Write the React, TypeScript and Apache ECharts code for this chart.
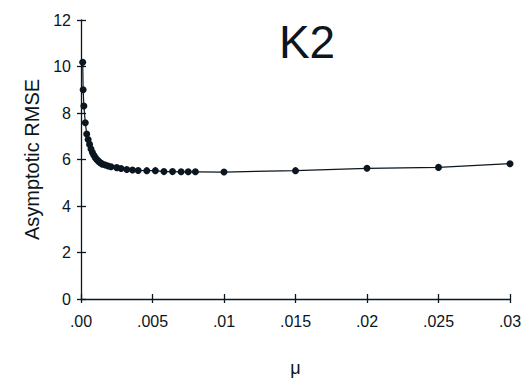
import React, { useEffect, useRef } from "react";
import * as echarts from "echarts";

const mu = [
  0.00012, 0.00015, 0.0002, 0.0003, 0.0004, 0.0005, 0.0006, 0.0007, 0.0008, 0.0009,
  0.001, 0.0011, 0.0012, 0.0013, 0.0014, 0.0015, 0.0017, 0.0019, 0.0021, 0.0025,
  0.0028, 0.0032, 0.0036, 0.004, 0.0046, 0.0052, 0.0058, 0.0064, 0.007, 0.0075,
  0.008, 0.01, 0.015, 0.02, 0.025, 0.03,
];
const rmse = [
  10.18, 9.0, 8.3, 7.58, 7.1, 6.86, 6.65, 6.45, 6.3, 6.18,
  6.08, 6.0, 5.94, 5.88, 5.84, 5.8, 5.76, 5.72, 5.69, 5.65,
  5.61, 5.57, 5.55, 5.53, 5.52, 5.52, 5.48, 5.48, 5.47, 5.47,
  5.47, 5.46, 5.52, 5.62, 5.66, 5.82,
];
const xTickLabels = [".00", ".005", ".01", ".015", ".02", ".025", ".03"];
const yTickLabels = ["0", "2", "4", "6", "8", "10", "12"];

const FONT = "Liberation Sans, Arial, Helvetica, sans-serif";
const INK = "#0b1620";

export default function App() {
  const ref = useRef<HTMLDivElement>(null);
  useEffect(() => {
    if (!ref.current) return;
    const chart = echarts.init(ref.current, null, { renderer: "svg" });
    const xBase = {
      type: "value",
      min: 0,
      max: 0.03,
      interval: 0.005,
      splitLine: { show: false },
    };
    const yBase = {
      type: "value",
      min: 0,
      max: 12,
      interval: 2,
      splitLine: { show: false },
    };
    chart.setOption({
      animation: false,
      backgroundColor: "#ffffff",
      title: {
        text: "K2",
        left: 302,
        top: 14,
        textAlign: "center",
        textStyle: { fontFamily: FONT, fontSize: 46, fontWeight: "normal", color: INK },
      },
      grid: { left: 81, right: 22, top: 20, bottom: 92, containLabel: false },
      xAxis: [
        {
          ...xBase,
          name: "μ",
          nameLocation: "middle",
          nameGap: 60,
          nameTextStyle: { fontFamily: FONT, fontSize: 18, color: INK },
          axisLine: { show: true, lineStyle: { color: INK, width: 1.3 } },
          axisTick: { show: true, inside: false, length: 4, lineStyle: { color: INK, width: 1.3 } },
          axisLabel: {
            fontFamily: FONT,
            fontSize: 16,
            color: INK,
            margin: 14,
            formatter: (v: number) => xTickLabels[Math.round(v / 0.005)] ?? "",
          },
        },
        {
          ...xBase,
          position: "bottom",
          axisLine: { show: false },
          axisTick: { show: true, inside: true, length: 5, lineStyle: { color: INK, width: 1.3 } },
          axisLabel: { show: false },
        },
      ],
      yAxis: [
        {
          ...yBase,
          name: "Asymptotic RMSE",
          nameLocation: "middle",
          nameGap: 38,
          nameRotate: 90,
          nameTextStyle: { fontFamily: FONT, fontSize: 20, color: INK },
          axisLine: { show: true, lineStyle: { color: INK, width: 1.3 } },
          axisTick: { show: true, inside: false, length: 4, lineStyle: { color: INK, width: 1.3 } },
          axisLabel: {
            fontFamily: FONT,
            fontSize: 16,
            color: INK,
            margin: 10,
            formatter: (v: number) => yTickLabels[Math.round(v / 2)] ?? "",
          },
        },
        {
          ...yBase,
          position: "left",
          axisLine: { show: false },
          axisTick: { show: true, inside: true, length: 5, lineStyle: { color: INK, width: 1.3 } },
          axisLabel: { show: false },
        },
      ],
      series: [
        {
          type: "line",
          data: mu.map((m, i) => [m, rmse[i]]),
          symbol: "circle",
          symbolSize: 7,
          showAllSymbol: true,
          lineStyle: { color: INK, width: 1.2 },
          itemStyle: { color: INK },
        },
      ],
    });
    return () => chart.dispose();
  }, []);
  return (
    <div
      ref={ref}
      style={{ position: "fixed", left: 0, top: 0, width: 532, height: 391 }}
    />
  );
}
